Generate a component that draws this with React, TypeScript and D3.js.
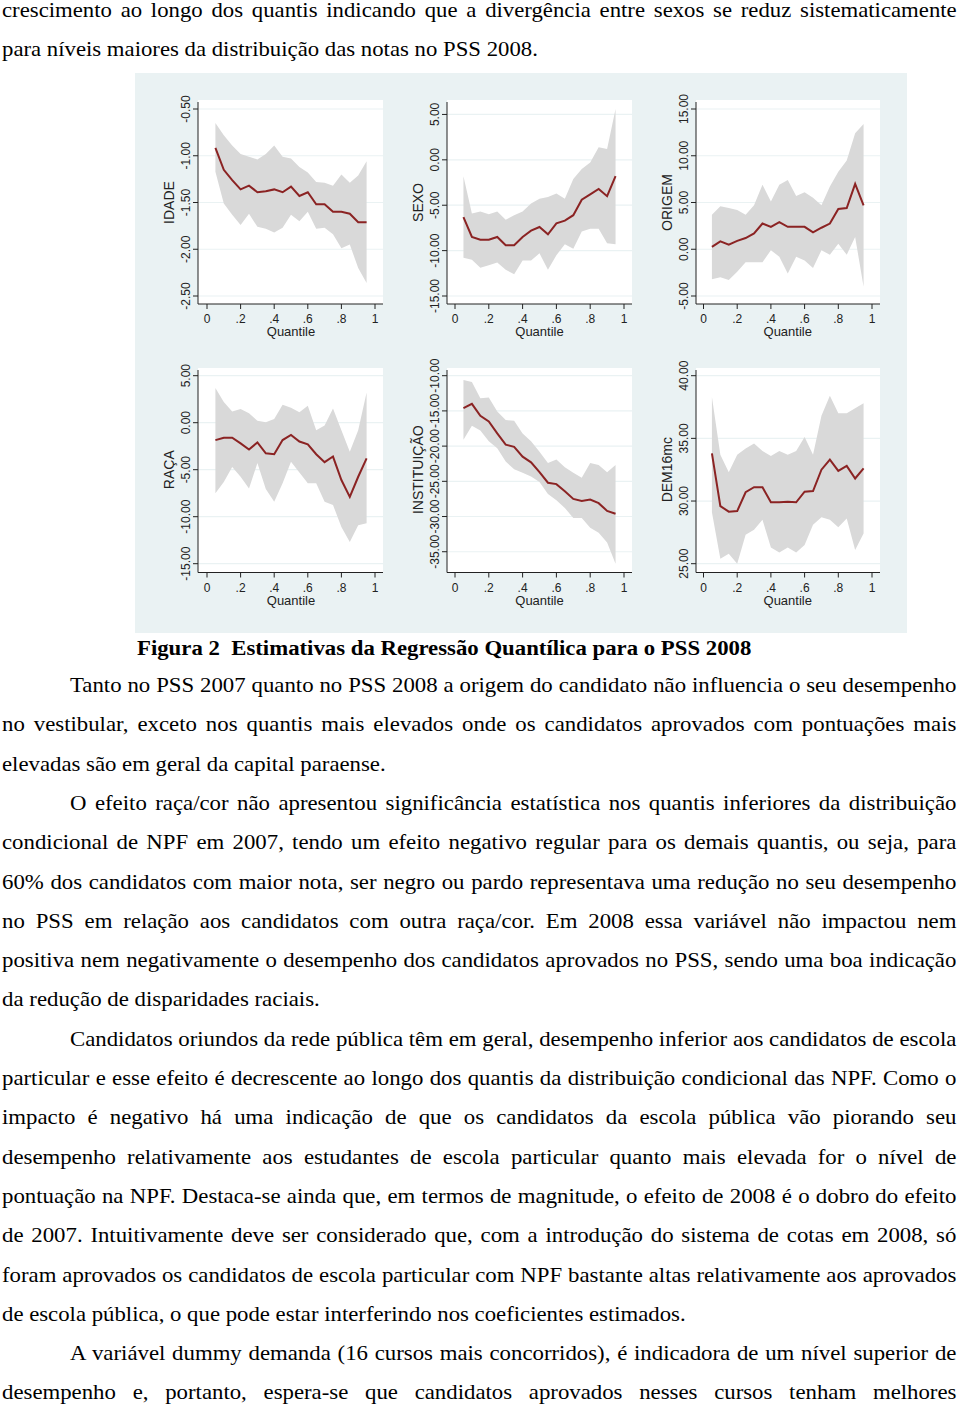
import React, { useRef, useLayoutEffect, useState } from "react";
import * as d3 from "d3";

// quantis estimados (0.05 ... 0.95)
const quantiles = [0.05, 0.1, 0.15, 0.2, 0.25, 0.3, 0.35, 0.4, 0.45, 0.5, 0.55, 0.6, 0.65, 0.7, 0.75, 0.8, 0.85, 0.9, 0.95];
const xTicks = [0, 0.2, 0.4, 0.6, 0.8, 1];

const idadeCoef = [-0.915, -1.15, -1.26, -1.36, -1.32, -1.39, -1.38, -1.36, -1.39, -1.33, -1.43, -1.39, -1.52, -1.52, -1.6, -1.6, -1.62, -1.71, -1.71];
const idadeHi = [-0.65, -0.78, -0.89, -0.98, -1.01, -1.04, -0.98, -0.89, -1.01, -1.03, -1.12, -1.18, -1.28, -1.29, -1.32, -1.2, -1.29, -1.21, -1.06];
const idadeLo = [-1.17, -1.51, -1.63, -1.74, -1.62, -1.76, -1.78, -1.82, -1.77, -1.63, -1.7, -1.6, -1.78, -1.77, -1.84, -1.99, -1.95, -2.2, -2.36];
const idadeTicks = [-2.5, -2, -1.5, -1, -0.5];

const sexoCoef = [-6.3, -8.5, -8.8, -8.8, -8.5, -9.4, -9.4, -8.5, -7.8, -7.4, -8.2, -7.0, -6.7, -6.1, -4.4, -3.8, -3.2, -4.0, -1.8];
const sexoHi = [-1.8, -5.9, -5.7, -6.0, -5.7, -6.6, -6.1, -5.7, -4.8, -4.3, -4.1, -3.7, -4.3, -2.1, -1.0, -0.3, 1.4, 1.2, 5.6];
const sexoLo = [-10.8, -11.0, -11.9, -11.6, -11.3, -12.1, -12.6, -11.1, -11.1, -10.3, -12.1, -10.5, -9.3, -9.8, -7.9, -7.6, -7.6, -9.2, -9.3];
const sexoTicks = [-15, -10, -5, 0, 5];

const origemCoef = [0.25, 0.85, 0.5, 0.9, 1.2, 1.7, 2.75, 2.4, 2.9, 2.4, 2.4, 2.4, 1.8, 2.3, 2.75, 4.3, 4.4, 7.0, 4.7];
const origemHi = [3.7, 4.6, 4.4, 4.2, 3.7, 4.7, 6.9, 5.1, 6.9, 7.4, 5.7, 6.1, 5.5, 4.7, 6.7, 8.3, 9.5, 12.4, 13.4];
const origemLo = [-3.2, -3.0, -3.3, -2.4, -1.4, -1.4, -1.4, -0.1, -0.8, -2.6, -0.8, -1.2, -2.0, -0.1, -0.6, 0.6, -0.6, 1.3, -4.0];
const origemTicks = [-5, 0, 5, 10, 15];

const racaCoef = [-1.85, -1.6, -1.6, -2.2, -2.85, -2.1, -3.25, -3.35, -1.85, -1.3, -2.0, -2.3, -3.35, -4.2, -3.6, -6.1, -7.9, -5.75, -3.8];
const racaHi = [3.7, 2.2, 1.2, 1.45, 1.0, 0.2, 0.05, 0.4, 1.9, 1.6, 1.1, 1.8, -0.8, -0.3, 1.5, -0.8, -3.1, -0.8, 3.2];
const racaLo = [-7.5, -6.3, -4.7, -5.75, -7.0, -4.3, -7.05, -8.4, -6.45, -4.15, -5.3, -6.45, -6.45, -8.4, -8.75, -11.1, -12.7, -10.9, -10.7];
const racaTicks = [-15, -10, -5, 0, 5];

const instCoef = [-14.6, -14.0, -15.7, -16.5, -18.2, -19.8, -20.1, -21.5, -22.3, -23.7, -25.2, -25.4, -26.4, -27.5, -27.8, -27.6, -28.1, -29.2, -29.6];
const instHi = [-10.6, -10.9, -13.2, -13.1, -15.1, -16.3, -16.4, -18.2, -19.3, -20.8, -22.4, -21.9, -23.0, -23.8, -24.5, -22.4, -22.7, -23.7, -22.7];
const instLo = [-19.1, -17.1, -17.8, -19.3, -20.3, -22.2, -23.3, -23.8, -24.3, -25.1, -26.8, -27.7, -28.8, -30.2, -30.2, -31.6, -32.3, -33.7, -36.7];
const instTicks = [-35, -30, -25, -20, -15, -10];

const demCoef = [33.8, 29.6, 29.15, 29.2, 30.7, 31.1, 31.1, 29.9, 29.9, 29.95, 29.9, 30.75, 30.8, 32.5, 33.3, 32.4, 32.8, 31.8, 32.6];
const demHi = [38.3, 33.7, 32.3, 33.7, 34.2, 34.6, 34.0, 33.6, 34.0, 33.7, 34.0, 35.1, 33.7, 36.8, 38.4, 37.0, 37.0, 37.4, 37.8];
const demLo = [29.1, 25.4, 25.8, 25.0, 27.3, 27.7, 28.5, 26.3, 25.9, 26.3, 25.9, 26.5, 28.1, 28.7, 28.5, 27.9, 28.6, 26.1, 27.4];
const demTicks = [25, 30, 35, 40];

const panels = [
  { title: "IDADE", coef: idadeCoef, lo: idadeLo, hi: idadeHi, ticks: idadeTicks },
  { title: "SEXO", coef: sexoCoef, lo: sexoLo, hi: sexoHi, ticks: sexoTicks },
  { title: "ORIGEM", coef: origemCoef, lo: origemLo, hi: origemHi, ticks: origemTicks },
  { title: "RAÇA", coef: racaCoef, lo: racaLo, hi: racaHi, ticks: racaTicks },
  { title: "INSTITUIÇÃO", coef: instCoef, lo: instLo, hi: instHi, ticks: instTicks },
  { title: "DEM16mc", coef: demCoef, lo: demLo, hi: demHi, ticks: demTicks },
];

// texto da página: [texto, x inicial, x final, justificada]
const proseTop = [
  ["crescimento ao longo dos quantis indicando que a divergência entre sexos se reduz sistematicamente", 2, 957, true],
  ["para níveis maiores da distribuição das notas no PSS 2008.", 2, 538, false],
];
const proseBody = [
  ["Tanto no PSS 2007 quanto no PSS 2008 a origem do candidato não influencia o seu desempenho", 70, 957, true],
  ["no vestibular, exceto nos quantis mais elevados onde os candidatos aprovados com pontuações mais", 2, 957, true],
  ["elevadas são em geral da capital paraense.", 2, 386, false],
  ["O efeito raça/cor não apresentou significância estatística nos quantis inferiores da distribuição", 70, 957, true],
  ["condicional de NPF em 2007, tendo um efeito negativo regular para os demais quantis, ou seja, para", 2, 957, true],
  ["60% dos candidatos com maior nota, ser negro ou pardo representava uma redução no seu desempenho", 2, 957, true],
  ["no PSS em relação aos candidatos com outra raça/cor. Em 2008 essa variável não impactou nem", 2, 957, true],
  ["positiva nem negativamente o desempenho dos candidatos aprovados no PSS, sendo uma boa indicação", 2, 957, true],
  ["da redução de disparidades raciais.", 2, 320, false],
  ["Candidatos oriundos da rede pública têm em geral, desempenho inferior aos candidatos de escola", 70, 957, true],
  ["particular e esse efeito é decrescente ao longo dos quantis da distribuição condicional das NPF. Como o", 2, 957, true],
  ["impacto é negativo há uma indicação de que os candidatos da escola pública vão piorando seu", 2, 957, true],
  ["desempenho relativamente aos estudantes de escola particular quanto mais elevada for o nível de", 2, 957, true],
  ["pontuação na NPF. Destaca-se ainda que, em termos de magnitude, o efeito de 2008 é o dobro do efeito", 2, 957, true],
  ["de 2007. Intuitivamente deve ser considerado que, com a introdução do sistema de cotas em 2008, só", 2, 957, true],
  ["foram aprovados os candidatos de escola particular com NPF bastante altas relativamente aos aprovados", 2, 957, true],
  ["de escola pública, o que pode estar interferindo nos coeficientes estimados.", 2, 686, false],
  ["A variável dummy demanda (16 cursos mais concorridos), é indicadora de um nível superior de", 70, 957, true],
  ["desempenho e, portanto, espera-se que candidatos aprovados nesses cursos tenham melhores", 2, 957, true],
];
const caption = "Figura 2  Estimativas da Regressão Quantílica para o PSS 2008";

const fmt = (v: number) => d3.format(".2f")(v).replace("\u2212", "-");
const fmtX = (v: number) => (v === 0 ? "0" : v === 1 ? "1" : d3.format(".1f")(v).replace(/^0/, ""));

const sans = "'Liberation Sans', Arial, sans-serif";
const serif = "'Liberation Serif', 'Times New Roman', serif";

const colAxisX = [198, 447, 696];
const colX0 = [207, 455, 703.5];
const colX1 = [375, 624, 872];
const colRight = [383, 632, 880];
const rowTop = [100, 368];
const rowAxisY = [304, 572.5];
const rowInnerTop = [109, 375.7];
const rowInnerBottom = [296, 563.7];

const Panel = ({ p, col, row }: any) => {
  const x = d3.scaleLinear().domain([0, 1]).range([colX0[col], colX1[col]]);
  const ext = d3.extent([...p.ticks, ...p.lo, ...p.hi]) as [number, number];
  const y = d3.scaleLinear().domain(ext).range([rowInnerBottom[row], rowInnerTop[row]]);
  const pts = quantiles.map((q, i) => ({ q, c: p.coef[i], lo: p.lo[i], hi: p.hi[i] }));
  const area = d3.area<any>().x(d => x(d.q)).y0(d => y(d.lo)).y1(d => y(d.hi));
  const line = d3.line<any>().x(d => x(d.q)).y(d => y(d.c));
  const ax = colAxisX[col];
  const ay = rowAxisY[row];
  const top = rowTop[row];
  const right = colRight[col];
  const midY = (rowInnerTop[row] + rowInnerBottom[row]) / 2;
  return (
    <g>
      <rect x={ax} y={top} width={right - ax} height={ay - top} fill="#ffffff" />
      {p.ticks.map((t: number) => (
        <line key={"g" + t} x1={ax} x2={right} y1={y(t)} y2={y(t)} stroke="#eaf2f3" strokeWidth={1.2} />
      ))}
      <path d={area(pts) || ""} fill="#d9d9d9" />
      <path d={line(pts) || ""} fill="none" stroke="#8b2323" strokeWidth={2} />
      <line x1={ax} x2={ax} y1={top + 2} y2={ay} stroke="#222" strokeWidth={1} />
      <line x1={ax} x2={right} y1={ay} y2={ay} stroke="#222" strokeWidth={1} />
      {p.ticks.map((t: number) => (
        <g key={"t" + t}>
          <line x1={ax - 5} x2={ax} y1={y(t)} y2={y(t)} stroke="#222" />
          <text transform={`translate(${ax - 8},${y(t)}) rotate(-90)`} textAnchor="middle"
            fontFamily={sans} fontSize={12} fill="#222">{fmt(t)}</text>
        </g>
      ))}
      <text transform={`translate(${ax - 24},${midY}) rotate(-90)`} textAnchor="middle"
        fontFamily={sans} fontSize={14} fill="#222">{p.title}</text>
      {xTicks.map(t => (
        <g key={"x" + t}>
          <line x1={x(t)} x2={x(t)} y1={ay} y2={ay + 5} stroke="#222" />
          <text x={x(t)} y={ay + 19} textAnchor="middle"
            fontFamily={sans} fontSize={12} fill="#222">{fmtX(t)}</text>
        </g>
      ))}
      <text x={(colX0[col] + colX1[col]) / 2} y={ay + 32} textAnchor="middle"
        fontFamily={sans} fontSize={13} fill="#222">Quantile</text>
    </g>
  );
};

const Prose = ({ lines, y0, step }: any) => {
  const refs = useRef<(SVGTextElement | null)[]>([]);
  const [w, setW] = useState<number[] | null>(null);
  useLayoutEffect(() => {
    setW(refs.current.map(el => (el ? el.getComputedTextLength() : 0)));
  }, []);
  // escala horizontal média das linhas não justificadas
  let sxAll = 0.9;
  if (w) {
    const r = lines.map((l: any, i: number) => (l[3] ? null : (l[2] - l[1]) / w[i])).filter((v: any) => v);
    if (r.length) sxAll = d3.mean(r) as number;
  }
  return (
    <g>
      {lines.map((l: any, i: number) => {
        const [txt, x0, x1, just] = l;
        const target = x1 - x0;
        let sx = 1;
        let ws = 0;
        if (w) {
          if (just) {
            sx = sxAll;
            const spaces = (txt.match(/ /g) || []).length;
            ws = (target / sx - w[i]) / Math.max(spaces, 1);
          } else {
            sx = target / w[i];
          }
        }
        return (
          <text key={i} ref={el => { refs.current[i] = el; }}
            transform={`translate(${x0},${y0 + i * step}) scale(${sx},1)`}
            wordSpacing={w ? ws : 0} fontFamily={serif} fontSize={22} fill="#000">{txt}</text>
        );
      })}
    </g>
  );
};

const Caption = () => {
  const ref = useRef<SVGTextElement | null>(null);
  const [sx, setSx] = useState(1);
  useLayoutEffect(() => {
    if (ref.current) setSx((752 - 137) / ref.current.getComputedTextLength());
  }, []);
  return (
    <text ref={ref} transform={`translate(137,655) scale(${sx},1)`} fontFamily={serif} fontSize={22}
      fontWeight="bold" style={{ whiteSpace: "pre" }} fill="#000">{caption}</text>
  );
};

export default function App() {
  return (
    <svg width={960} height={1409} style={{ position: "absolute", left: 0, top: 0, background: "#fff" }}>
      <rect x={0} y={0} width={960} height={1409} fill="#ffffff" />
      <Prose lines={proseTop} y0={17} step={39} />
      <rect x={135} y={73} width={772} height={560} fill="#eaf2f3" />
      {panels.map((p, i) => (
        <Panel key={p.title} p={p} col={i % 3} row={Math.floor(i / 3)} />
      ))}
      <Caption />
      <Prose lines={proseBody} y0={692} step={39.3} />
    </svg>
  );
}
